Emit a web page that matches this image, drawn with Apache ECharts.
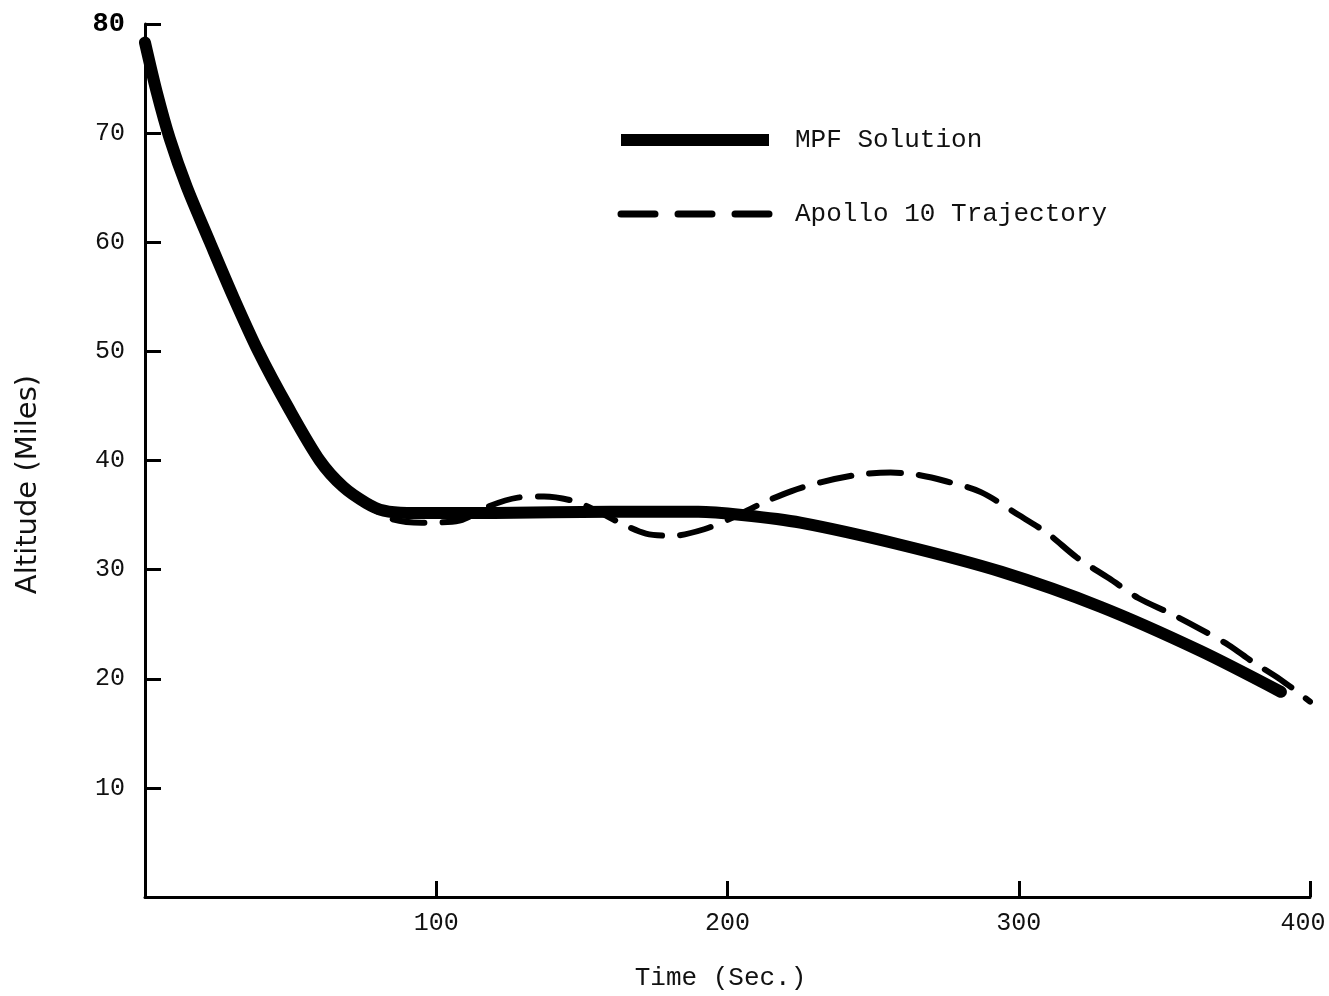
<!DOCTYPE html>
<html>
<head>
<meta charset="utf-8">
<script src="https://cdn.jsdelivr.net/npm/echarts@6/dist/echarts.min.js"></script>
<style>html,body{margin:0;padding:0;background:#fff;overflow:hidden}#c{width:1329px;height:996px}</style>
</head>
<body>
<div id="c"></div>
<script>
var xTicks = [0, 100, 200, 300, 400];
var yTicks = [0, 10, 20, 30, 40, 50, 60, 70, 80];
var mpfTime = [0, 4, 8.5, 14.3, 22.3, 30.3, 38.9, 49.1, 60, 68, 76, 82, 90, 120, 160, 190, 205, 225, 259, 294, 328, 362, 390];
var mpfAlt  = [78.3, 73.8, 69.5, 65.1, 60, 55, 50, 44.9, 40, 37.6, 36.1, 35.4, 35.2, 35.2, 35.3, 35.3, 35.0, 34.3, 32.3, 29.8, 26.6, 22.6, 18.8];
var apolloTime = [0, 4, 8.5, 14.3, 22.3, 30.3, 38.9, 49.1, 60, 68, 76, 84, 95, 108, 118, 128, 137, 147, 155, 163, 172, 181, 192, 202, 212, 222, 232, 245, 256, 265, 275, 287, 300, 310, 320, 331, 341, 352, 362, 372, 380, 390, 400];
var apolloAlt  = [78.3, 73.8, 69.5, 65.1, 60, 55, 50, 44.9, 40, 37.6, 36.0, 34.7, 34.3, 34.5, 35.8, 36.6, 36.7, 36.3, 35.4, 34.3, 33.3, 33.1, 33.7, 34.8, 36.1, 37.2, 38.0, 38.7, 38.9, 38.7, 38.1, 37.1, 35.0, 33.3, 31.1, 29.2, 27.4, 26.0, 24.6, 23.1, 21.6, 19.9, 17.9];

function pairs(a, b) { return a.map(function (v, i) { return [v, b[i]]; }); }

var fontMono = 'Liberation Mono';
var chart = echarts.init(document.getElementById('c'));
chart.setOption({
  animation: false,
  backgroundColor: '#fff',
  grid: { left: 145, right: 19, top: 24, bottom: 99, containLabel: false, outerBoundsMode: 'none' },
  legend: {
    orient: 'vertical',
    left: 610,
    top: 121,
    itemWidth: 148,
    itemHeight: 14,
    itemGap: 46,
    itemStyle: { opacity: 0 },
    textStyle: { fontFamily: fontMono, fontSize: 26, color: '#111', padding: [0, 0, 0, 21], lineHeight: 28 },
    data: [
      { name: 'MPF Solution', lineStyle: { width: 12, cap: 'butt' } },
      { name: 'Apollo 10 Trajectory', lineStyle: { width: 7, type: [34, 23], cap: 'round' } }
    ]
  },
  xAxis: {
    type: 'value', min: 0, max: 400, interval: 100,
    name: 'Time (Sec.)', nameLocation: 'middle', nameGap: 68,
    nameTextStyle: { fontFamily: fontMono, fontSize: 26, color: '#111', padding: [0, 14, 0, 0] },
    axisLine: { lineStyle: { color: '#000', width: 3 } },
    axisTick: { inside: true, length: 16, lineStyle: { color: '#000', width: 3 } },
    axisLabel: { margin: 14, fontFamily: fontMono, fontSize: 25, color: '#111',
      formatter: function (v) { return v === 0 ? '' : (v === 400 ? '{r|400}' : String(v)); },
      rich: { r: { fontFamily: fontMono, fontSize: 25, color: '#111', padding: [0, 14, 0, 0] } } },
    splitLine: { show: false }
  },
  yAxis: {
    type: 'value', min: 0, max: 80, interval: 10,
    name: 'Altitude (Miles)', nameLocation: 'middle', nameGap: 102, nameRotate: 90,
    nameTextStyle: { fontFamily: 'DejaVu Sans', fontSize: 29, color: '#111', padding: [0, 0, 0, -48] },
    axisLine: { lineStyle: { color: '#000', width: 3 } },
    axisTick: { inside: true, length: 16, lineStyle: { color: '#000', width: 3 } },
    axisLabel: { margin: 20, fontFamily: fontMono, fontSize: 25, color: '#111',
      formatter: function (v) { return v === 0 ? '' : (v === 80 ? '{b|80}' : String(v)); },
      rich: { b: { fontFamily: fontMono, fontSize: 27, fontWeight: 'bold', color: '#000' } } },
    splitLine: { show: false }
  },
  series: [
    {
      name: 'Apollo 10 Trajectory', type: 'line', smooth: 0.3, symbol: 'none',
      data: pairs(apolloTime, apolloAlt),
      lineStyle: { color: '#000', width: 6, type: [32, 18], cap: 'round', join: 'round' },
      itemStyle: { color: '#000' }, z: 2
    },
    {
      name: 'MPF Solution', type: 'line', smooth: 0.3, symbol: 'none',
      data: pairs(mpfTime, mpfAlt),
      lineStyle: { color: '#000', width: 12, cap: 'round', join: 'round' },
      itemStyle: { color: '#000' }, z: 3
    }
  ]
});
</script>
</body>
</html>
